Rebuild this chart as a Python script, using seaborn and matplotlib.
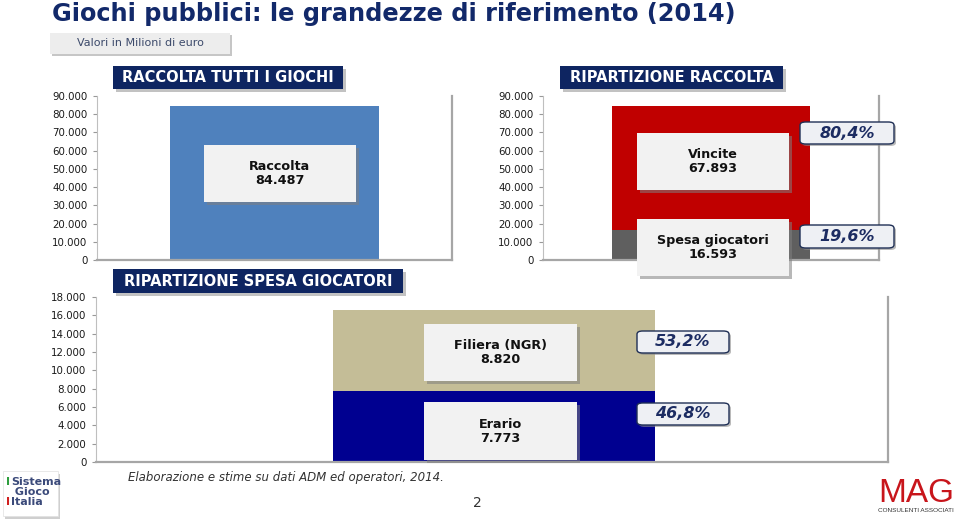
import matplotlib
matplotlib.use("Agg")
import matplotlib.pyplot as plt
import seaborn as sns
import pandas as pd
from matplotlib.patches import FancyBboxPatch, Rectangle
from matplotlib.ticker import FuncFormatter, MultipleLocator

# ---- data ----
raccolta_cat = ["Raccolta"]
raccolta_val = [84487]
rip_raccolta_cat = ["Vincite", "Spesa giocatori"]
rip_raccolta_val = [67893, 16593]
rip_raccolta_pct = ["80,4%", "19,6%"]
rip_spesa_cat = ["Filiera (NGR)", "Erario"]
rip_spesa_val = [8820, 7773]
rip_spesa_pct = ["53,2%", "46,8%"]

sns.set_theme(style="white")
plt.rcParams['font.family'] = ['DejaVu Sans']

W, H = 959, 521
fig = plt.figure(figsize=(W / 100, H / 100), dpi=100)
fig.patch.set_facecolor("white")

NAVY = "#0E2561"

def fx(x):
    return x / W

def fy(y):
    return 1 - y / H

def ax_rect(x0, y0, x1, y1):
    return [fx(x0), fy(y1), fx(x1) - fx(x0), (y1 - y0) / H]

def thousands(v, pos):
    return f"{int(v):,}".replace(",", ".")

def style_axes(ax, ymax, step):
    ax.set_ylim(0, ymax)
    ax.yaxis.set_major_locator(MultipleLocator(step))
    ax.yaxis.set_major_formatter(FuncFormatter(thousands))
    ax.set_xlabel("")
    ax.set_ylabel("")
    ax.set_xticks([])
    ax.spines["top"].set_visible(False)
    ax.spines["left"].set_color("#BFBFBF")
    ax.spines["left"].set_linewidth(0.8)
    ax.spines["bottom"].set_color("#A6A6A6")
    ax.spines["bottom"].set_linewidth(1.6)
    ax.spines["right"].set_color("#A6A6A6")
    ax.spines["right"].set_linewidth(1.6)
    ax.tick_params(axis="y", which="major", left=True, length=3, width=0.8,
                   color="#999999", labelsize=7.4, labelcolor="#1A1A1A", pad=4)
    ax.set_facecolor("white")

def header(x0, y0, x1, y1, text):
    fig.patches.append(Rectangle((fx(x0 + 3), fy(y1 + 3)), fx(x1 - x0), (y1 - y0) / H,
                                 transform=fig.transFigure, facecolor="#9A9A9A",
                                 edgecolor="none", alpha=0.6, zorder=5))
    fig.patches.append(Rectangle((fx(x0), fy(y1)), fx(x1 - x0), (y1 - y0) / H,
                                 transform=fig.transFigure, facecolor=NAVY,
                                 edgecolor="none", zorder=6))
    fig.text(fx((x0 + x1) / 2), fy((y0 + y1) / 2), text, color="white",
             fontsize=10.5, fontweight="bold", ha="center", va="center", zorder=7)

def label_box(x0, y0, x1, y1, text, fs=9.2):
    fig.patches.append(Rectangle((fx(x0 + 3), fy(y1 + 3)), fx(x1 - x0), (y1 - y0) / H,
                                 transform=fig.transFigure, facecolor="#7F7F7F",
                                 edgecolor="none", alpha=0.55, zorder=8))
    fig.patches.append(Rectangle((fx(x0), fy(y1)), fx(x1 - x0), (y1 - y0) / H,
                                 transform=fig.transFigure, facecolor="#F2F2F2",
                                 edgecolor="none", zorder=9))
    fig.text(fx((x0 + x1) / 2), fy((y0 + y1) / 2), text, color="#111111",
             fontsize=fs, fontweight="bold", ha="center", va="center",
             linespacing=1.1, zorder=10)

def pct_box(x0, y0, x1, y1, text):
    fig.patches.append(FancyBboxPatch((fx(x0 + 2), fy(y1 + 2)), fx(x1 - x0), (y1 - y0) / H,
                                      boxstyle="round,pad=0,rounding_size=0.006",
                                      transform=fig.transFigure, facecolor="#8C8C8C",
                                      edgecolor="none", alpha=0.6, zorder=8))
    fig.patches.append(FancyBboxPatch((fx(x0), fy(y1)), fx(x1 - x0), (y1 - y0) / H,
                                      boxstyle="round,pad=0,rounding_size=0.006",
                                      transform=fig.transFigure, facecolor="#EEF0F4",
                                      edgecolor="#1F2F55", linewidth=1.0, zorder=9))
    fig.text(fx((x0 + x1) / 2), fy((y0 + y1) / 2), text, color="#1C2C62",
             fontsize=11.5, fontweight="bold", style="italic", ha="center", va="center",
             zorder=10)

# ---- Title & subtitle ----
fig.text(fx(52), fy(14), "Giochi pubblici: le grandezze di riferimento (2014)",
         fontsize=17.3, fontweight="bold", color="#12296A", ha="left", va="center")
fig.patches.append(Rectangle((fx(52), fy(56)), fx(180), 21 / H, transform=fig.transFigure,
                             facecolor="#A0A0A0", edgecolor="none", alpha=0.6))
fig.patches.append(Rectangle((fx(50), fy(54)), fx(180), 21 / H, transform=fig.transFigure,
                             facecolor="#EDEDED", edgecolor="none"))
fig.text(fx(140), fy(43.5), "Valori in Milioni di euro", fontsize=8, color="#3C4A6B",
         ha="center", va="center")

# ---- Panel 1: Raccolta tutti i giochi ----
ax1 = fig.add_axes(ax_rect(97, 96, 452, 260))
df1 = pd.DataFrame({"cat": raccolta_cat, "val": raccolta_val})
sns.barplot(data=df1, x="cat", y="val", ax=ax1, color="#4F81BD", saturation=1,
            width=0.586, edgecolor="none")
ax1.set_xlim(-0.5, 0.5)
style_axes(ax1, 90000, 10000)

# ---- Panel 2: Ripartizione raccolta (stacked) ----
ax2 = fig.add_axes(ax_rect(543, 96, 879, 260))
total_r = sum(rip_raccolta_val)
df2_top = pd.DataFrame({"cat": ["Raccolta"], "val": [total_r]})
df2_low = pd.DataFrame({"cat": ["Raccolta"], "val": [rip_raccolta_val[1]]})
sns.barplot(data=df2_top, x="cat", y="val", ax=ax2, color="#C00000", saturation=1,
            width=0.588, edgecolor="none")
sns.barplot(data=df2_low, x="cat", y="val", ax=ax2, color="#5F5F5F", saturation=1,
            width=0.588, edgecolor="none")
ax2.set_xlim(-0.5, 0.5)
style_axes(ax2, 90000, 10000)

# ---- Panel 3: Ripartizione spesa giocatori (stacked) ----
ax3 = fig.add_axes(ax_rect(96, 297, 888, 462))
total_s = sum(rip_spesa_val)
df3_top = pd.DataFrame({"cat": ["Spesa"], "val": [total_s]})
df3_low = pd.DataFrame({"cat": ["Spesa"], "val": [rip_spesa_val[1]]})
sns.barplot(data=df3_top, x="cat", y="val", ax=ax3, color="#C4BD97", saturation=1,
            width=0.406, edgecolor="none")
sns.barplot(data=df3_low, x="cat", y="val", ax=ax3, color="#000090", saturation=1,
            width=0.406, edgecolor="none")
ax3.set_xlim(-0.5 - 0.0025, 0.5 - 0.0025)
style_axes(ax3, 18000, 2000)

# ---- Headers ----
header(113, 66, 343, 89, "RACCOLTA TUTTI I GIOCHI")
header(560, 66, 783, 89, "RIPARTIZIONE RACCOLTA")
header(113, 269, 403, 293, "RIPARTIZIONE SPESA GIOCATORI")

# ---- Value label boxes ----
def fmt(v):
    return f"{v:,}".replace(",", ".")

label_box(204, 145, 356, 202, f"{raccolta_cat[0]}\n{fmt(raccolta_val[0])}")
label_box(637, 133, 789, 190, f"{rip_raccolta_cat[0]}\n{fmt(rip_raccolta_val[0])}")
label_box(637, 219, 789, 276, f"{rip_raccolta_cat[1]}\n{fmt(rip_raccolta_val[1])}")
label_box(424, 324, 577, 381, f"{rip_spesa_cat[0]}\n{fmt(rip_spesa_val[0])}")
label_box(424, 402, 577, 460, f"{rip_spesa_cat[1]}\n{fmt(rip_spesa_val[1])}")

# ---- Percentage boxes ----
pct_box(800, 122, 894, 144, rip_raccolta_pct[0])
pct_box(800, 225, 894, 248, rip_raccolta_pct[1])
pct_box(637, 331, 729, 353, rip_spesa_pct[0])
pct_box(637, 403, 729, 425, rip_spesa_pct[1])

# ---- Footnote & page number ----
fig.text(fx(128), fy(478), "Elaborazione e stime su dati ADM ed operatori, 2014.",
         fontsize=8.5, style="italic", color="#333333", ha="left", va="center")
fig.text(fx(477), fy(503), "2", fontsize=10, color="#333333", ha="center", va="center")

# ---- Logos (text) ----
fig.patches.append(Rectangle((fx(5), fy(519)), fx(55), 45 / H, transform=fig.transFigure,
                             facecolor="#B0B0B0", edgecolor="none", alpha=0.6))
fig.patches.append(Rectangle((fx(3), fy(516)), fx(55), 45 / H, transform=fig.transFigure,
                             facecolor="white", edgecolor="#E0E0E0", linewidth=0.5))
fig.text(fx(6), fy(482), "I", fontsize=8, fontweight="bold", color="#2E9E3E",
         ha="left", va="center")
fig.text(fx(6), fy(502), "I", fontsize=8, fontweight="bold", color="#D02020",
         ha="left", va="center")
fig.text(fx(11), fy(492), "Sistema\n Gioco\nItalia", fontsize=8, fontweight="bold",
         color="#3B4A7A", ha="left", va="center", linespacing=0.95)

fig.text(fx(916), fy(493), "MAG", fontsize=24, color="#C8151B", ha="center", va="center",
         family="Liberation Sans")
fig.text(fx(916), fy(510), "CONSULENTI ASSOCIATI", fontsize=4.6, color="#333333",
         ha="center", va="center", family="Liberation Sans")

fig.savefig("out.png", dpi=100, facecolor="white")
